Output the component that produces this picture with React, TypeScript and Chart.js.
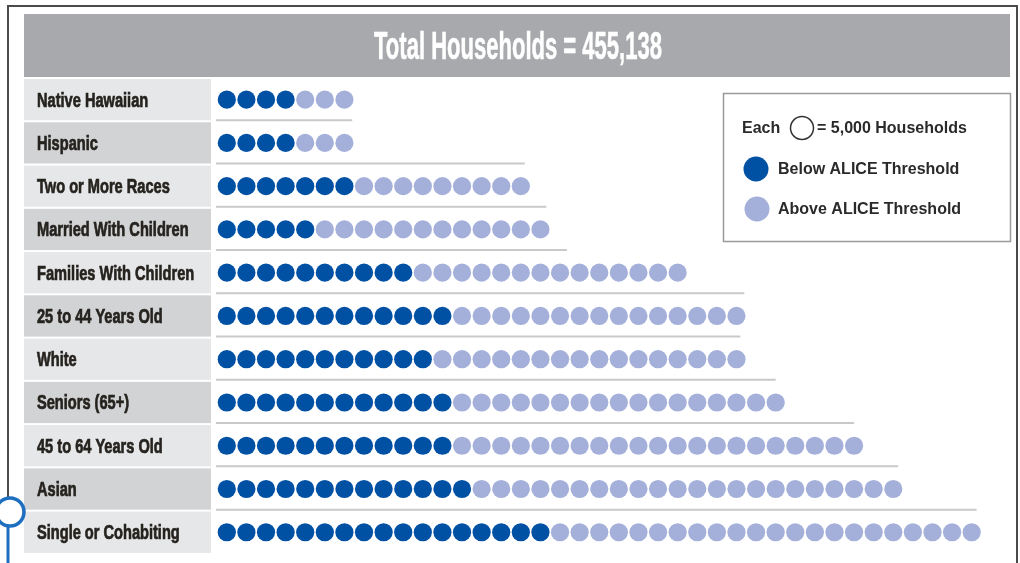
import React, { useEffect, useRef } from "react";
import { Chart, registerables } from "chart.js";

Chart.register(...registerables);

// ---- data (each dot = 5,000 households) ----
const categories = [
  "Native Hawaiian",
  "Hispanic",
  "Two or More Races",
  "Married With Children",
  "Families With Children",
  "25 to 44 Years Old",
  "White",
  "Seniors (65+)",
  "45 to 64 Years Old",
  "Asian",
  "Single or Cohabiting",
];
const belowDots = [4, 4, 7, 5, 10, 12, 11, 12, 12, 13, 17];
const aboveDots = [3, 3, 9, 12, 14, 15, 16, 17, 21, 22, 22];
// end of the thin rule under each row, in dot units
const separatorEnds = [6.4, 15.2, 16.3, 17.35, 26.4, 26.2, 28.0, 32.0, 34.25, 38.25];

const titleText = "Total Households = 455,138";
const legendEachA = "Each";
const legendEachB = "= 5,000 Households";
const legendBelow = "Below ALICE Threshold";
const legendAbove = "Above ALICE Threshold";

const DARK = "#0050A4";
const LIGHT = "#A4B0DA";

function condensedText(
  ctx: CanvasRenderingContext2D,
  text: string,
  x: number,
  baseline: number,
  sx: number,
  align: "left" | "center",
  stroke = 0
) {
  ctx.save();
  ctx.translate(x, baseline);
  ctx.scale(sx, 1);
  ctx.textAlign = align;
  ctx.textBaseline = "alphabetic";
  ctx.fillText(text, 0, 0);
  if (stroke > 0) {
    ctx.strokeStyle = ctx.fillStyle as string;
    ctx.lineWidth = stroke;
    ctx.strokeText(text, 0, 0);
  }
  ctx.restore();
}

export default function App() {
  const ref = useRef<HTMLCanvasElement>(null);

  useEffect(() => {
    const canvas = ref.current!;
    const belowPoints: { x: number; y: string }[] = [];
    const abovePoints: { x: number; y: string }[] = [];
    categories.forEach((c, i) => {
      for (let k = 0; k < belowDots[i]; k++) belowPoints.push({ x: k, y: c });
      for (let k = 0; k < aboveDots[i]; k++) abovePoints.push({ x: belowDots[i] + k, y: c });
    });

    const decor = {
      id: "decor",
      beforeDatasetsDraw(chart: any) {
        const ctx: CanvasRenderingContext2D = chart.ctx;
        const xs = chart.scales.x;
        const ys = chart.scales.y;
        ctx.save();

        // frame
        ctx.strokeStyle = "#4a4a4a";
        ctx.lineWidth = 2;
        ctx.beginPath();
        ctx.moveTo(8, 498);
        ctx.lineTo(8, 6);
        ctx.lineTo(1017, 6);
        ctx.lineTo(1017, 563);
        ctx.stroke();

        // title bar
        ctx.fillStyle = "#A7A9AC";
        ctx.fillRect(24, 14, 986, 63);
        ctx.fillStyle = "#ffffff";
        ctx.font = "bold 39px 'Liberation Sans', Arial, sans-serif";
        condensedText(ctx, titleText, 518, 45 + 14, 0.565, "center", 0.6);

        // label boxes + labels
        const rowH = Math.abs(ys.getPixelForValue(1) - ys.getPixelForValue(0));
        ctx.font = "bold 20px 'Liberation Sans', Arial, sans-serif";
        categories.forEach((c, i) => {
          const cy = ys.getPixelForValue(i);
          ctx.fillStyle = i % 2 === 0 ? "#E6E7E8" : "#D1D3D4";
          ctx.fillRect(24, cy - rowH / 2 + 1, 187, rowH - 2);
          ctx.fillStyle = "#26231f";
          condensedText(ctx, c, 37, cy + 7, 0.73, "left", 0.7);
        });

        // separators
        ctx.strokeStyle = "#c9c9c9";
        ctx.lineWidth = 2;
        separatorEnds.forEach((end, i) => {
          const ly = (ys.getPixelForValue(i) + ys.getPixelForValue(i + 1)) / 2 - 1;
          ctx.beginPath();
          ctx.moveTo(xs.getPixelForValue(-0.55), ly);
          ctx.lineTo(xs.getPixelForValue(end), ly);
          ctx.stroke();
        });

        // blue ring decoration
        ctx.strokeStyle = "#1E6FC0";
        ctx.lineWidth = 3.5;
        ctx.beginPath();
        ctx.arc(10, 512, 14, 0, Math.PI * 2);
        ctx.stroke();
        ctx.lineWidth = 3;
        ctx.beginPath();
        ctx.moveTo(8, 526);
        ctx.lineTo(8, 563);
        ctx.stroke();

        ctx.restore();
      },
      afterDraw(chart: any) {
        const ctx: CanvasRenderingContext2D = chart.ctx;
        ctx.save();
        ctx.fillStyle = "#ffffff";
        ctx.fillRect(723, 93, 288, 149);
        ctx.strokeStyle = "#9a9a9a";
        ctx.lineWidth = 1.5;
        ctx.strokeRect(723.5, 93.5, 287, 148);

        ctx.font = "bold 16px 'Liberation Sans', Arial, sans-serif";
        ctx.fillStyle = "#2a2a2a";
        ctx.textBaseline = "middle";
        ctx.textAlign = "left";
        ctx.fillText(legendEachA, 742, 129);
        ctx.strokeStyle = "#333";
        ctx.lineWidth = 1.5;
        ctx.beginPath();
        ctx.arc(802, 128, 11.5, 0, Math.PI * 2);
        ctx.stroke();
        ctx.fillText(legendEachB, 817, 129);

        ctx.fillStyle = DARK;
        ctx.beginPath();
        ctx.arc(756, 169, 12.5, 0, Math.PI * 2);
        ctx.fill();
        ctx.fillStyle = "#2a2a2a";
        ctx.fillText(legendBelow, 778, 170);

        ctx.fillStyle = LIGHT;
        ctx.beginPath();
        ctx.arc(757, 209, 12.5, 0, Math.PI * 2);
        ctx.fill();
        ctx.fillStyle = "#2a2a2a";
        ctx.fillText(legendAbove, 778, 210);
        ctx.restore();
      },
    };

    const chart = new Chart(canvas, {
      type: "scatter",
      data: {
        datasets: [
          {
            label: legendBelow,
            data: belowPoints as any,
            backgroundColor: DARK,
            borderWidth: 0,
            pointRadius: 9.1,
            pointHoverRadius: 9.1,
          },
          {
            label: legendAbove,
            data: abovePoints as any,
            backgroundColor: LIGHT,
            borderWidth: 0,
            pointRadius: 9.1,
            pointHoverRadius: 9.1,
          },
        ],
      },
      options: {
        animation: false,
        responsive: false,
        devicePixelRatio: 1,
        layout: { padding: { left: 217, right: 3, top: 78, bottom: 4 } },
        scales: {
          x: { type: "linear", min: -0.5, max: 40.0, display: false },
          y: { type: "category", labels: categories, offset: true, display: false },
        },
        plugins: {
          legend: { display: false },
          tooltip: { enabled: false },
          title: { display: false },
        },
      },
      plugins: [decor],
    } as any);

    return () => chart.destroy();
  }, []);

  return (
    <div style={{ position: "fixed", left: 0, top: 0, width: 1020, height: 563, background: "#fff" }}>
      <canvas ref={ref} width={1020} height={563} style={{ display: "block", width: 1020, height: 563 }} />
    </div>
  );
}
